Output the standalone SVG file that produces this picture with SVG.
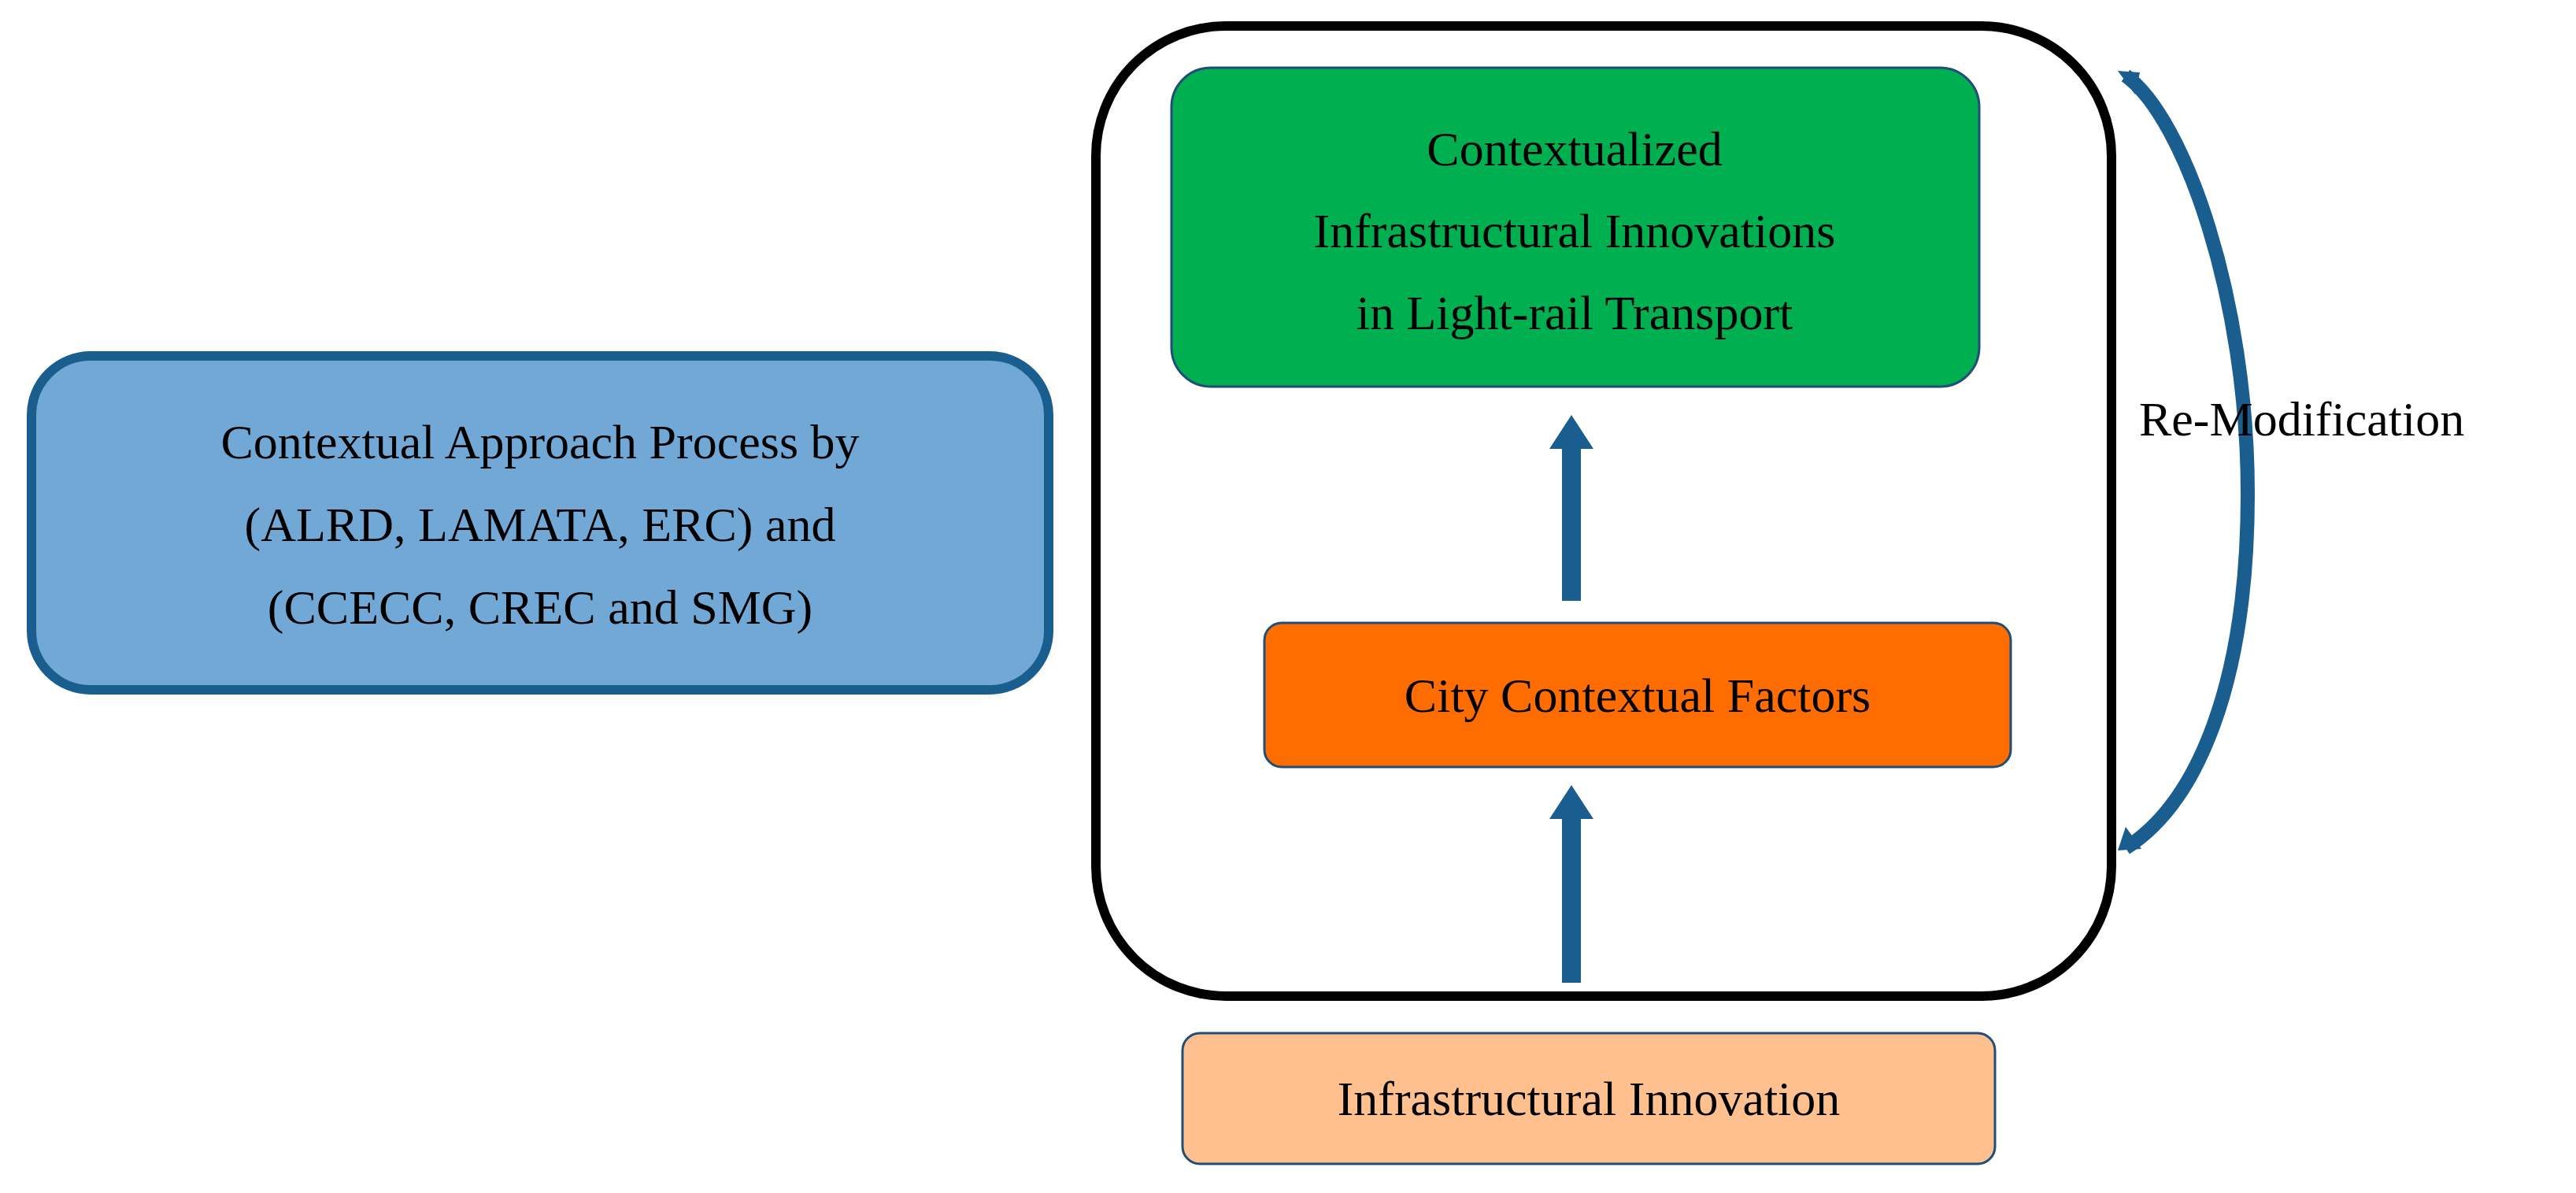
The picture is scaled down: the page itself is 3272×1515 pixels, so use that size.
<svg xmlns="http://www.w3.org/2000/svg" width="3272" height="1515" viewBox="0 0 3272 1515">
<style>
text{font-family:"Liberation Serif","Times New Roman",serif;font-size:62px;fill:#000;text-anchor:middle}
.ar{fill:#1a5d8f}
</style>
<rect width="3272" height="1515" fill="#fff"/>
<g id="container"><rect x="1392" y="33" width="1290" height="1232" rx="165" fill="none" stroke="#000" stroke-width="12"/></g>
<g id="blue"><rect x="40" y="452" width="1292" height="424" rx="75" fill="#72a8d6" stroke="#1a5d8f" stroke-width="12"/>
<text x="686" y="582">Contextual Approach Process by</text><text x="686" y="687">(ALRD, LAMATA, ERC) and</text><text x="686" y="792">(CCECC, CREC and SMG)</text></g>
<g id="green"><rect x="1488" y="86" width="1026" height="405" rx="50" fill="#00b050" stroke="#1f4e79" stroke-width="3"/>
<text x="2000" y="210">Contextualized</text><text x="2000" y="314">Infrastructural Innovations</text><text x="2000" y="418">in Light-rail Transport</text></g>
<g id="orange"><rect x="1606" y="791" width="948" height="183" rx="22" fill="#ff6d00" stroke="#1f4e79" stroke-width="3"/>
<text x="2080" y="904">City Contextual Factors</text></g>
<g id="peach"><rect x="1502" y="1312" width="1032" height="166" rx="22" fill="#ffc08f" stroke="#1f4e79" stroke-width="3"/>
<text x="2018" y="1416">Infrastructural Innovation</text></g>
<g id="connectors">
<polygon class="ar" points="1984,763 2008,763 2008,570 2024,570 1996,527 1968,570 1984,570"/>
<polygon class="ar" points="1984,1248 2008,1248 2008,1040 2024,1040 1996,997 1968,1040 1984,1040"/>
<path d="M2700,96 C2775,150 2855,380 2855,627 C2855,870 2790,1020 2700,1077" fill="none" stroke="#1a5d8f" stroke-width="18"/>
<path d="M2690,90 L2718,92 L2712,120 Z" fill="#1a5d8f"/>
<path d="M2690,1080 L2700,1050 L2720,1078 Z" fill="#1a5d8f"/>
<text x="2717" y="553" style="text-anchor:start">Re-Modification</text>
</g>
</svg>
